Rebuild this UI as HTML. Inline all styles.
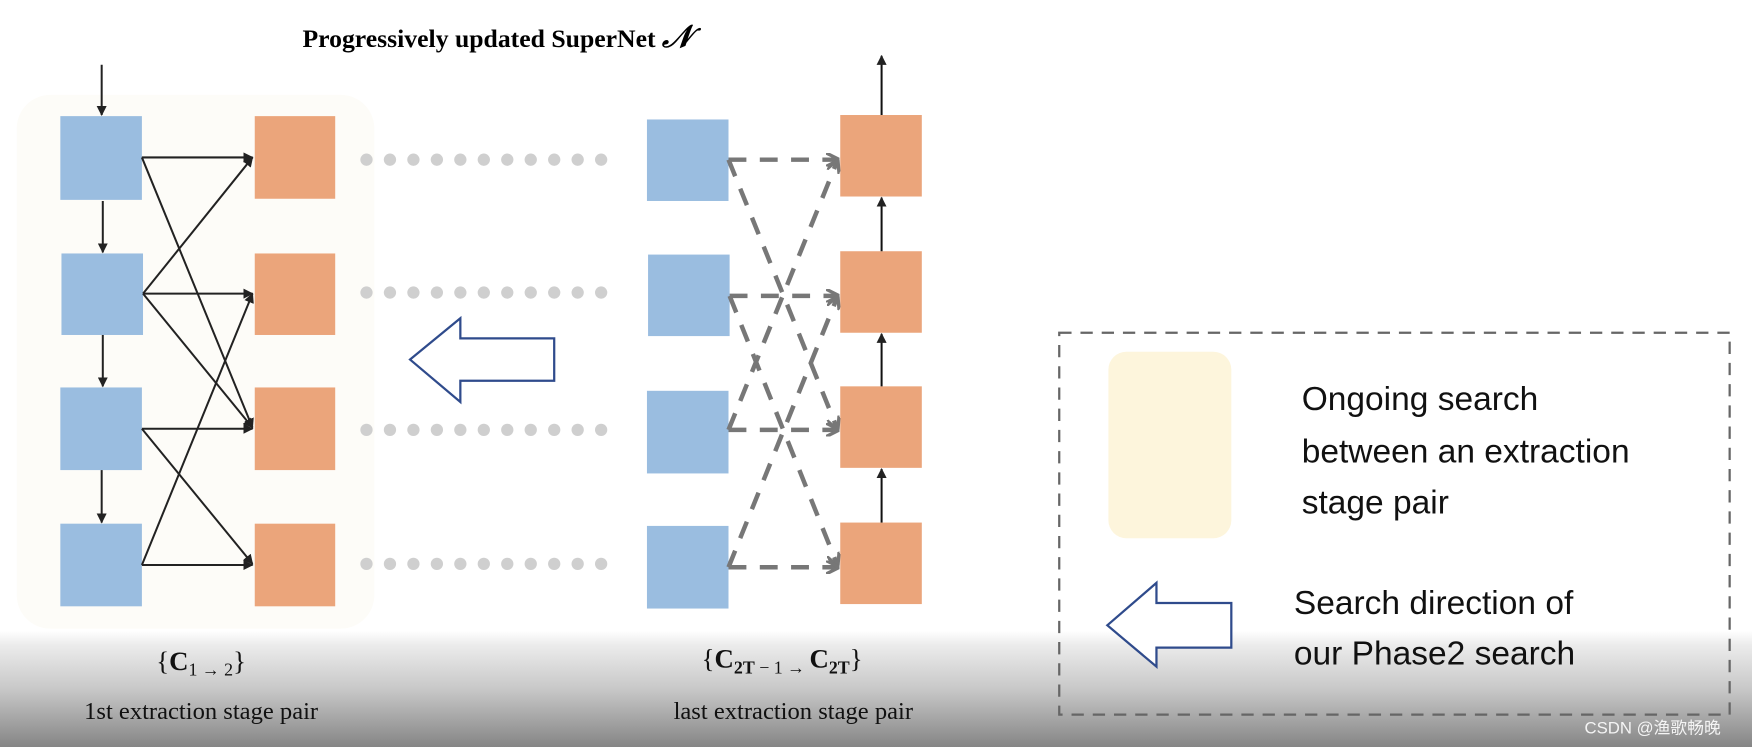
<!DOCTYPE html>
<html><head><meta charset="utf-8"><style>
html,body{margin:0;padding:0;background:#fff;width:1752px;height:747px;overflow:hidden}
svg{display:block}
</style></head><body>
<svg width="1752" height="747" viewBox="0 0 1568 669" preserveAspectRatio="none" xmlns="http://www.w3.org/2000/svg">
<defs>
<linearGradient id="bg" x1="0" y1="0" x2="0" y2="1">
<stop offset="0" stop-color="#ffffff"/>
<stop offset="0.12" stop-color="#ececec"/>
<stop offset="0.5" stop-color="#c8c8c8"/>
<stop offset="1" stop-color="#858585"/>
</linearGradient>
<marker id="ab" viewBox="0 0 10 10" refX="9" refY="5" markerWidth="5" markerHeight="5" orient="auto"><path d="M0,0L10,5L0,10z" fill="#222"/></marker>
<marker id="ag" viewBox="0 0 10 10" refX="8" refY="5" markerWidth="3" markerHeight="3" orient="auto"><path d="M0,0L10,5L0,10" fill="none" stroke="#777" stroke-width="2.5"/></marker>
<g id="drow"><circle cx="328" cy="0" r="5.5" fill="#cfcfcf"/><circle cx="349" cy="0" r="5.5" fill="#cfcfcf"/><circle cx="370" cy="0" r="5.5" fill="#cfcfcf"/><circle cx="391" cy="0" r="5.5" fill="#cfcfcf"/><circle cx="412" cy="0" r="5.5" fill="#cfcfcf"/><circle cx="433" cy="0" r="5.5" fill="#cfcfcf"/><circle cx="454" cy="0" r="5.5" fill="#cfcfcf"/><circle cx="475" cy="0" r="5.5" fill="#cfcfcf"/><circle cx="496" cy="0" r="5.5" fill="#cfcfcf"/><circle cx="517" cy="0" r="5.5" fill="#cfcfcf"/><circle cx="538" cy="0" r="5.5" fill="#cfcfcf"/></g>
</defs>
<rect x="0" y="0" width="1568" height="669" fill="#fff"/>
<rect x="0" y="565" width="1568" height="104" fill="url(#bg)"/>
<rect x="15" y="85" width="320" height="478" rx="30" fill="#fdfcf8"/>

<text x="445" y="42" text-anchor="middle" font-family="Liberation Serif, serif" font-weight="bold" font-size="23">Progressively updated SuperNet <tspan font-style="italic" font-size="28">𝒩</tspan></text>

<g fill="#9abde0">
<rect x="54" y="104" width="73" height="75"/><rect x="55" y="227" width="73" height="73"/>
<rect x="54" y="347" width="73" height="74"/><rect x="54" y="469" width="73" height="74"/>
</g>
<g fill="#eba57b">
<rect x="228" y="104" width="72" height="74"/><rect x="228" y="227" width="72" height="73"/>
<rect x="228" y="347" width="72" height="74"/><rect x="228" y="469" width="72" height="74"/>
</g>
<g stroke="#222" stroke-width="1.8" marker-end="url(#ab)">
<line x1="91" y1="58" x2="91" y2="103"/><line x1="92" y1="180" x2="92" y2="226"/>
<line x1="92" y1="300" x2="92" y2="346"/><line x1="91" y1="421" x2="91" y2="468"/>
<line x1="127" y1="141" x2="226" y2="141"/><line x1="127" y1="141" x2="226" y2="383"/>
<line x1="128" y1="263" x2="226" y2="141"/><line x1="128" y1="263" x2="226" y2="263"/><line x1="128" y1="263" x2="226" y2="383"/>
<line x1="127" y1="384" x2="226" y2="384"/><line x1="127" y1="384" x2="226" y2="505"/>
<line x1="127" y1="506" x2="226" y2="263"/><line x1="127" y1="506" x2="226" y2="506"/>
</g>

<use href="#drow" y="143"/><use href="#drow" y="262"/><use href="#drow" y="385"/><use href="#drow" y="505"/>

<polygon points="367,322 412,285 412,303 496,303 496,341 412,341 412,360" fill="#fff" stroke="#2f4b8c" stroke-width="2"/>

<g fill="#9abde0">
<rect x="579" y="107" width="73" height="73"/><rect x="580" y="228" width="73" height="73"/>
<rect x="579" y="350" width="73" height="74"/><rect x="579" y="471" width="73" height="74"/>
</g>
<g fill="#eba57b">
<rect x="752" y="103" width="73" height="73"/><rect x="752" y="225" width="73" height="73"/>
<rect x="752" y="346" width="73" height="73"/><rect x="752" y="468" width="73" height="73"/>
</g>
<g stroke="#111" stroke-width="1.8" marker-end="url(#ab)">
<line x1="789" y1="103" x2="789" y2="50"/><line x1="789" y1="225" x2="789" y2="177"/>
<line x1="789" y1="346" x2="789" y2="299"/><line x1="789" y1="468" x2="789" y2="420"/>
</g>
<g stroke="#777" stroke-width="4" stroke-dasharray="16,12" marker-end="url(#ag)" fill="none">
<line x1="652" y1="143" x2="749" y2="143"/><line x1="652" y1="143" x2="749" y2="383"/>
<line x1="653" y1="265" x2="749" y2="265"/><line x1="653" y1="265" x2="749" y2="505"/>
<line x1="652" y1="385" x2="749" y2="385"/><line x1="652" y1="385" x2="749" y2="145"/>
<line x1="652" y1="508" x2="749" y2="508"/><line x1="652" y1="508" x2="749" y2="267"/>
</g>

<g font-family="Liberation Serif, serif" fill="#111" text-anchor="middle">
<text x="180" y="600" font-size="24">{<tspan font-weight="bold">C</tspan><tspan font-size="16" dy="5">1 → 2</tspan><tspan dy="-5">}</tspan></text>
<text x="180" y="644" font-size="22">1st extraction stage pair</text>
<text x="700" y="598" font-size="24">{<tspan font-weight="bold">C</tspan><tspan font-size="16" dy="5" font-weight="bold">2T</tspan><tspan font-size="16"> − 1 → </tspan><tspan font-weight="bold" dy="-5">C</tspan><tspan font-size="16" dy="5" font-weight="bold">2T</tspan><tspan dy="-5">}</tspan></text>
<text x="710" y="644" font-size="22">last extraction stage pair</text>
</g>

<rect x="948" y="298" width="600" height="342" fill="none" stroke="#666" stroke-width="2" stroke-dasharray="11,8"/>
<rect x="992" y="315" width="110" height="167" rx="16" fill="#fdf5dc"/>
<g font-family="Liberation Sans, sans-serif" font-size="30" fill="#111">
<text x="1165" y="367">Ongoing search</text>
<text x="1165" y="414">between an extraction</text>
<text x="1165" y="460">stage pair</text>
<text x="1158" y="550">Search direction of</text>
<text x="1158" y="595">our Phase2 search</text>
</g>
<polygon points="991,560 1035,522 1035,540 1102,540 1102,580 1035,580 1035,597" fill="#fff" stroke="#2f4b8c" stroke-width="2"/>
<text x="1540" y="657" text-anchor="end" font-family="Liberation Sans, Noto Sans CJK SC, sans-serif" font-size="15" fill="#f4f4f4">CSDN @渔歌畅晚</text>
</svg>
</body></html>
